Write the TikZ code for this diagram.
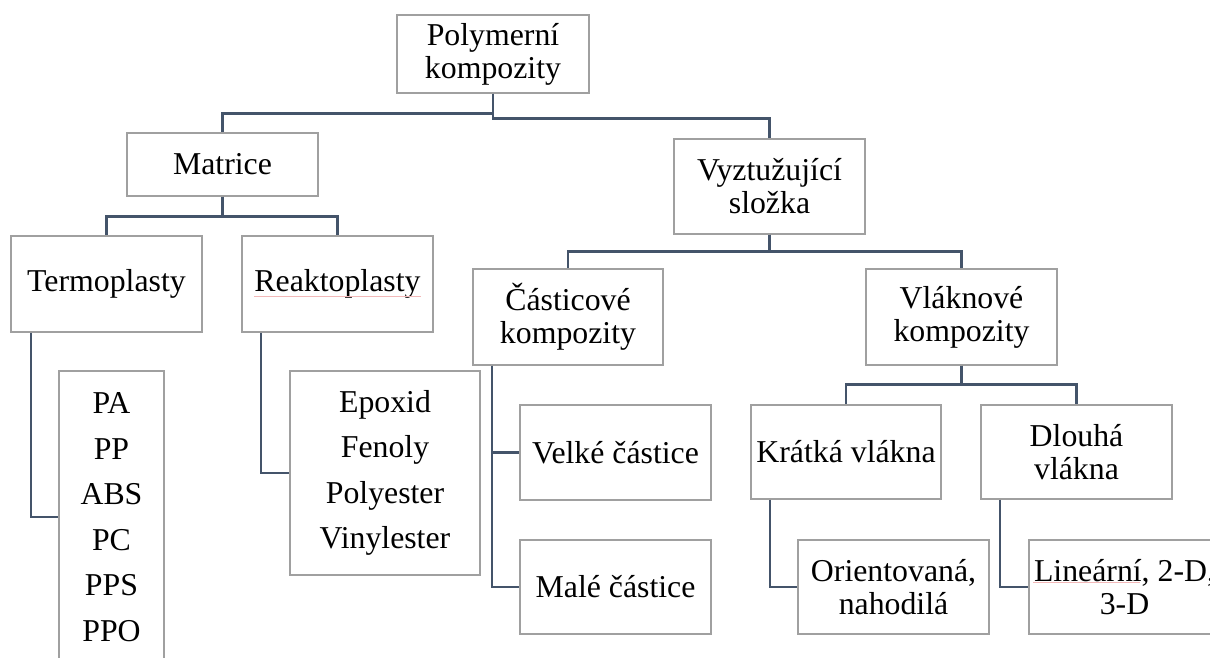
\documentclass[tikz,border=0pt]{standalone}
\usepackage{fontspec}
\setmainfont{Liberation Serif}
\definecolor{conncol}{HTML}{44546A}
\definecolor{boxline}{HTML}{A0A0A0}
\definecolor{spell}{HTML}{F2B8B8}
\begin{document}
\begin{tikzpicture}[x=1pt,y=-1pt,
  box/.style={draw=boxline,line width=1.3pt,fill=white,inner sep=0pt,align=center,
              font=\fontsize{31.8}{33}\selectfont,minimum width=191pt,minimum height=95pt},
  listbox/.style={box,font=\fontsize{31.8}{45.5}\selectfont},
  link/.style={draw=conncol,line width=2.6pt},
  squiggle/.style={draw=spell,line width=0.9pt}]
\clip (0,0) rectangle (1210,657);
\fill[white] (0,0) rectangle (1210,657);

% nodes
\node[box,minimum width=192pt,minimum height=78pt] (top) at (493,54) {Polymerní\\kompozity};
\node[box,minimum height=63pt] (matrice) at (222.5,164.5) {Matrice};
\node[box,minimum height=95pt] (vyztuz) at (769.5,186.5) {Vyztužující\\složka};
\node[box,minimum height=96pt] (termo) at (106.5,284) {Termoplasty};
\node[box,minimum height=96pt] (reakto) at (337.5,284) {Reaktoplasty};
\node[box,minimum width=190pt,minimum height=96pt] (castic) at (568,317) {Částicové\\kompozity};
\node[box,minimum height=96pt] (vlakn) at (961.5,317) {Vláknové\\kompozity};
\node[listbox,minimum width=105pt,minimum height=292pt] (pa) at (111.5,517) {PA\\PP\\ABS\\PC\\PPS\\PPO};
\node[listbox,minimum width=190pt,minimum height=204pt] (epoxid) at (385,473) {Epoxid\\Fenoly\\Polyester\\Vinylester};
\node[box,minimum height=95pt] (velke) at (615.5,452.5) {Velké částice};
\node[box,minimum height=94pt] (male) at (615.5,587) {Malé částice};
\node[box,minimum width=190pt,minimum height=94pt] (kratka) at (846,452) {Krátká vlákna};
\node[box,minimum height=94pt] (dlouha) at (1076.5,452) {Dlouhá\\vlákna};
\node[box,minimum height=94pt] (orient) at (893.5,587) {Orientovaná,\\nahodilá};
\node[box,minimum height=94pt] (linear) at (1124.5,587) {Lineární, 2-D,\\3-D};

% spell-check underlines
\draw[squiggle] (254,296) -- (421,296);
\draw[squiggle] (1033,582) -- (1140,582);

% connectors
\draw[link] (top.south) -- ++(0,20) -| (matrice.north);
\draw[link] (top.south) -- ++(0,25) -| (vyztuz.north);
\draw[link] (matrice.south) -- ++(0,20) -| (termo.north);
\draw[link] (matrice.south) -- ++(0,20) -| (reakto.north);
\draw[link] (vyztuz.south) -- ++(0,17) -| (castic.north);
\draw[link] (vyztuz.south) -- ++(0,17) -| (vlakn.north);
\draw[link] (vlakn.south) -- ++(0,19) -| (kratka.north);
\draw[link] (vlakn.south) -- ++(0,19) -| (dlouha.north);
\draw[link] ([xshift=-75.5pt]termo.south) |- (pa.west);
\draw[link] ([xshift=-76.5pt]reakto.south) |- (epoxid.west);
\draw[link] ([xshift=-76pt]castic.south) |- (velke.west);
\draw[link] ([xshift=-76pt]castic.south) |- (male.west);
\draw[link] ([xshift=-76pt]kratka.south) |- (orient.west);
\draw[link] ([xshift=-76.5pt]dlouha.south) |- (linear.west);
\end{tikzpicture}
\end{document}
